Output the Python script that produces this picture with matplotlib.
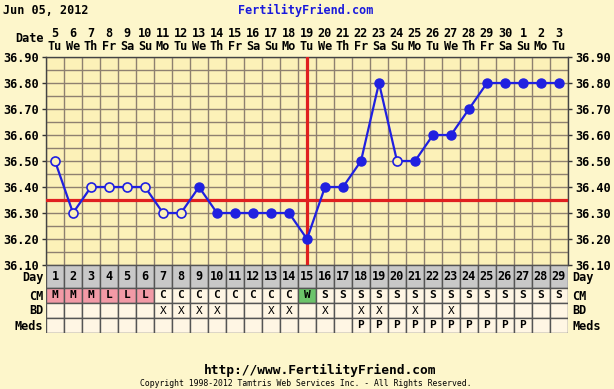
import numpy as np
import matplotlib
matplotlib.use("Agg")
import matplotlib.pyplot as plt
from matplotlib.ticker import FormatStrFormatter

# ---- chart data ----
cycle_days = list(range(1, 30))
dates = [5, 6, 7, 8, 9, 10, 11, 12, 13, 14, 15, 16, 17, 18, 19, 20, 21, 22,
         23, 24, 25, 26, 27, 28, 29, 30, 1, 2, 3]
weekdays = ["Tu", "We", "Th", "Fr", "Sa", "Su", "Mo"] * 4 + ["Tu"]
temps = [36.50, 36.30, 36.40, 36.40, 36.40, 36.40, 36.30, 36.30, 36.40, 36.30,
         36.30, 36.30, 36.30, 36.30, 36.20, 36.40, 36.40, 36.50, 36.80, 36.50,
         36.50, 36.60, 36.60, 36.70, 36.80, 36.80, 36.80, 36.80, 36.80]
open_days = [1, 2, 3, 4, 5, 6, 7, 8, 20]   # hollow markers (discarded temps)
coverline = 36.35
ovulation_day = 15
cm = ["M", "M", "M", "L", "L", "L"] + ["C"] * 8 + ["W"] + ["S"] * 14
bd_days = [7, 8, 9, 10, 13, 14, 16, 18, 19, 21, 23]
meds_days = list(range(18, 28))
date_str = "Jun 05, 2012"

# ---- styles ----
page_bg = "#fdf6cb"
plot_bg = "#fcf1b8"
grid_c = "#8e8070"
blue = "#2020e0"
red = "#e02020"
mono = "DejaVu Sans Mono"
W, H = 614, 389

fig = plt.figure(figsize=(W / 100, H / 100), dpi=100, facecolor=page_bg)

# temperature plot
ax = fig.add_axes([46 / W, 1 - 265 / H, 522 / W, 208 / H])
ax.set_facecolor(plot_bg)
ax.set_xlim(0.5, 29.5)
ax.set_ylim(36.10, 36.90)
ax.set_xticks(np.arange(0.5, 29.6, 1), minor=True)
ax.set_xticks([])
ax.set_yticks(np.arange(36.10, 36.91, 0.10))
ax.set_yticks(np.arange(36.15, 36.90, 0.10), minor=True)
ax.yaxis.set_major_formatter(FormatStrFormatter("%.2f"))
ax.grid(True, which="both", color=grid_c, lw=1)
ax.set_axisbelow(True)
ax.tick_params(axis="y", which="major", left=True, right=True, labelright=True,
               length=3, width=1, color="#333333", pad=2)
ax.tick_params(axis="both", which="minor", length=0)
ax.tick_params(axis="x", which="both", length=0)
for lab in ax.get_yticklabels():
    lab.set_fontfamily(mono)
    lab.set_fontweight("bold")
    lab.set_fontsize(8.6)
for s in ax.spines.values():
    s.set_color("#444444")
    s.set_linewidth(1)

ax.axhline(coverline, color=red, lw=2.3, zorder=3)
ax.axvline(ovulation_day, color=red, lw=2.3, zorder=3)
ax.plot(cycle_days, temps, color=blue, lw=1.6, zorder=4)
filled = [d for d in cycle_days if d not in open_days]
ax.plot(filled, [temps[d - 1] for d in filled], "o", color=blue, ms=6.5, zorder=5)
ax.plot(open_days, [temps[d - 1] for d in open_days], "o", mec=blue, mfc=plot_bg,
        mew=1.2, ms=6.5, zorder=5)

# header dates
xt = ax.get_xaxis_transform()
for d, dt, wd in zip(cycle_days, dates, weekdays):
    ax.text(d, 1.115, str(dt), transform=xt, ha="center", va="center",
            family=mono, weight="bold", fontsize=8.6)
    ax.text(d, 1.052, wd, transform=xt, ha="center", va="center",
            family=mono, weight="bold", fontsize=8.6)
fig.text(44 / W, 1 - 39 / H, "Date", ha="right", va="center",
         family=mono, weight="bold", fontsize=8.6)

# table
tax = fig.add_axes([46 / W, 1 - 333 / H, 522 / W, 68 / H])
tax.set_xlim(0.5, 29.5)
tax.set_ylim(68, 0)
tax.axis("off")
cm_colors = {"M": "#f29aa6", "L": "#f29aa6", "W": "#6cc46a"}
edge = "#555555"
tax.bar(cycle_days, 23, bottom=0, width=1, color="#c8c8c8", edgecolor=edge, lw=1)
tax.bar(cycle_days, 15, bottom=23, width=1,
        color=[cm_colors.get(c, "#fff6e4") for c in cm], edgecolor=edge, lw=1)
tax.bar(cycle_days, 15, bottom=38, width=1, color="#fff6e4", edgecolor=edge, lw=1)
tax.bar(cycle_days, 15, bottom=53, width=1, color="#fff6e4", edgecolor=edge, lw=1)
for d in cycle_days:
    tax.text(d, 12, str(d), ha="center", va="center", family=mono,
             weight="bold", fontsize=8.6)
    tax.text(d, 30.5, cm[d - 1], ha="center", va="center", family=mono,
             weight="bold", fontsize=8)
for d in bd_days:
    tax.text(d, 45.5, "X", ha="center", va="center", family=mono, fontsize=8)
for d in meds_days:
    tax.text(d, 60.5, "P", ha="center", va="center", family=mono,
             weight="bold", fontsize=8)
yt = tax.get_yaxis_transform()
for lab, yc in zip(["Day", "CM", "BD", "Meds"], [13, 31, 46, 61]):
    tax.text(-0.005, yc, lab, transform=yt, ha="right", va="center",
             family=mono, weight="bold", fontsize=8.6)
    tax.text(1.008, yc, lab, transform=yt, ha="left", va="center",
             family=mono, weight="bold", fontsize=8.6)

# titles and footer
fig.text(3 / W, 1 - 10 / H, date_str, ha="left", va="center", family=mono,
         weight="bold", fontsize=8.5)
fig.text(306 / W, 1 - 10 / H, "FertilityFriend.com", ha="center", va="center",
         family=mono, weight="bold", fontsize=8.5, color="#1a1adc")
fig.text(320 / W, 1 - 370 / H, "http://www.FertilityFriend.com", ha="center",
         va="center", family=mono, weight="bold", fontsize=9.3)
fig.text(306 / W, 1 - 384 / H,
         "Copyright 1998-2012 Tamtris Web Services Inc. - All Rights Reserved.",
         ha="center", va="center", family=mono, fontsize=5.9)

fig.savefig("out.png", dpi=100, facecolor=page_bg)
